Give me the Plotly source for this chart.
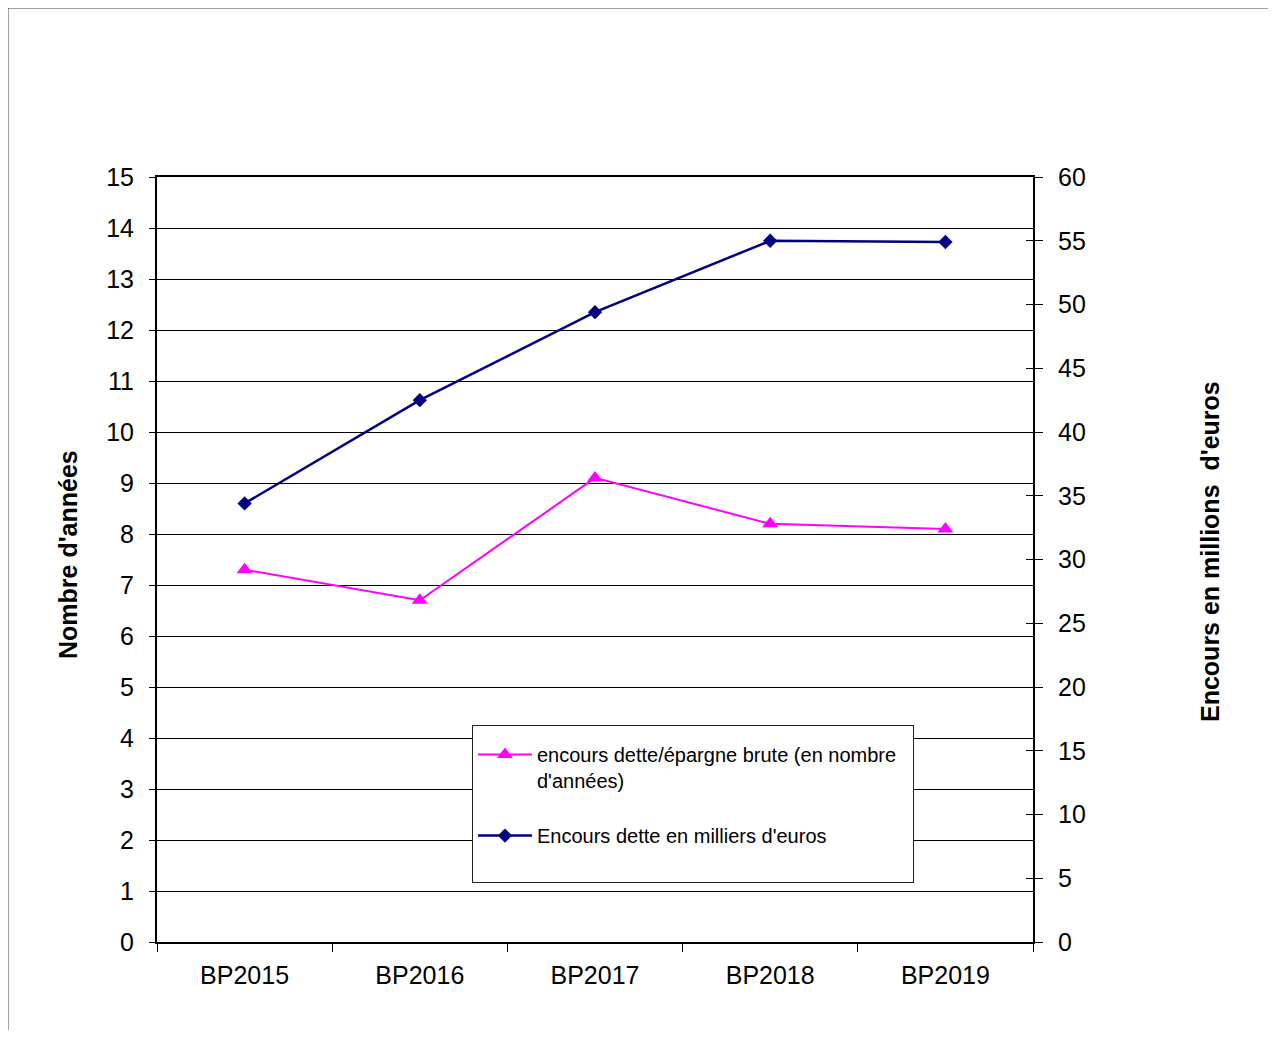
import plotly.graph_objects as go

categories = ["BP2015", "BP2016", "BP2017", "BP2018", "BP2019"]
ratio_annees = [7.3, 6.7, 9.1, 8.2, 8.1]
encours_dette = [34.4, 42.5, 49.4, 55.0, 54.9]

left_ticks = list(range(0, 16))
right_ticks = list(range(0, 61, 5))

name_ratio = "encours dette/épargne brute (en nombre\u00a0\u00a0<br>d'années)<br> "
name_encours = "Encours dette en milliers d'euros<br><span style='font-size:36px'> </span>"

# the page body adds an 8px offset; coordinates below are in reference pixels
OFF = 8
W, H = 1260, 1022
L, R, T, B = 157, 1033, 177, 942
pw, ph = R - L, B - T

def px(x):
    return (x - L) / pw

def py(y):
    return (B - y) / ph

FONT = "Arial, Liberation Sans, sans-serif"

fig = go.Figure()
fig.add_trace(go.Scatter(
    x=categories, y=ratio_annees, name=name_ratio, mode="lines+markers",
    line=dict(color="#FF00FF", width=2),
    marker=dict(symbol="triangle-up", size=14, color="#FF00FF"),
    yaxis="y", cliponaxis=False,
))
fig.add_trace(go.Scatter(
    x=categories, y=encours_dette, name=name_encours, mode="lines+markers",
    line=dict(color="#000080", width=2.5),
    marker=dict(symbol="diamond", size=11, color="#000080"),
    yaxis="y2", cliponaxis=False,
))
# helper trace so that the inside-tick overlay axis is drawn
fig.add_trace(go.Scatter(x=[categories[0]], y=[None], yaxis="y3",
                         showlegend=False, hoverinfo="skip"))

fig.update_layout(
    width=W, height=H,
    margin=dict(l=L - OFF, r=W - (R - OFF), t=T - OFF, b=H - (B - OFF), pad=0),
    paper_bgcolor="white", plot_bgcolor="white",
    font=dict(family=FONT, size=25, color="black"),
    showlegend=True,
    xaxis=dict(
        type="category", range=[-0.5, 4.5],
        showline=True, linecolor="black", linewidth=2, mirror=True,
        ticks="outside", ticklen=8, tickwidth=1, tickcolor="black",
        tickson="boundaries", showgrid=False, zeroline=False,
        tickfont=dict(size=25), ticklabelstandoff=10,
    ),
    yaxis=dict(
        range=[0, 15], tickvals=left_ticks, ticktext=[str(v) for v in left_ticks],
        showline=True, linecolor="black", linewidth=2,
        ticks="outside", ticklen=6, tickwidth=1, tickcolor="black",
        showgrid=True, gridcolor="black", gridwidth=1, zeroline=False,
        tickfont=dict(size=25), ticklabelstandoff=10,
    ),
    yaxis2=dict(
        range=[0, 60], tickvals=right_ticks, ticktext=[str(v) for v in right_ticks],
        overlaying="y", side="right", anchor="x",
        showline=True, linecolor="black", linewidth=2,
        ticks="outside", ticklen=8, tickwidth=1, tickcolor="black",
        showgrid=False, zeroline=False,
        tickfont=dict(size=25), ticklabelstandoff=10,
    ),
    yaxis3=dict(
        range=[0, 60], tickvals=right_ticks, overlaying="y", side="right", anchor="x",
        showline=False, ticks="inside", ticklen=7, tickwidth=1, tickcolor="black",
        showticklabels=False, showgrid=False, zeroline=False,
    ),
    legend=dict(
        x=px(472), y=py(725), xanchor="left", yanchor="top",
        bgcolor="white", bordercolor="#222", borderwidth=1,
        font=dict(family=FONT, size=20, color="black"),
        valign="top", itemwidth=54, tracegroupgap=0,
        title=dict(text=" ", font=dict(size=7)),
    ),
    annotations=[
        dict(text="<b>Nombre d'années</b>", textangle=-90, x=px(68), y=py(555),
             xref="paper", yref="paper", xanchor="center", yanchor="middle",
             showarrow=False, font=dict(size=25)),
        dict(text="<b>Encours en millions \u00a0d'euros</b>", textangle=-90, x=px(1210), y=py(552),
             xref="paper", yref="paper", xanchor="center", yanchor="middle",
             showarrow=False, font=dict(size=25)),
    ],
    shapes=[
        dict(type="line", xref="paper", yref="paper", x0=px(8), x1=px(1300), y0=py(8), y1=py(8),
             line=dict(color="#444", width=1)),
        dict(type="line", xref="paper", yref="paper", x0=px(8), x1=px(8), y0=py(8), y1=py(1036),
             line=dict(color="#444", width=1)),
    ],
)

fig.write_html("out.html")
